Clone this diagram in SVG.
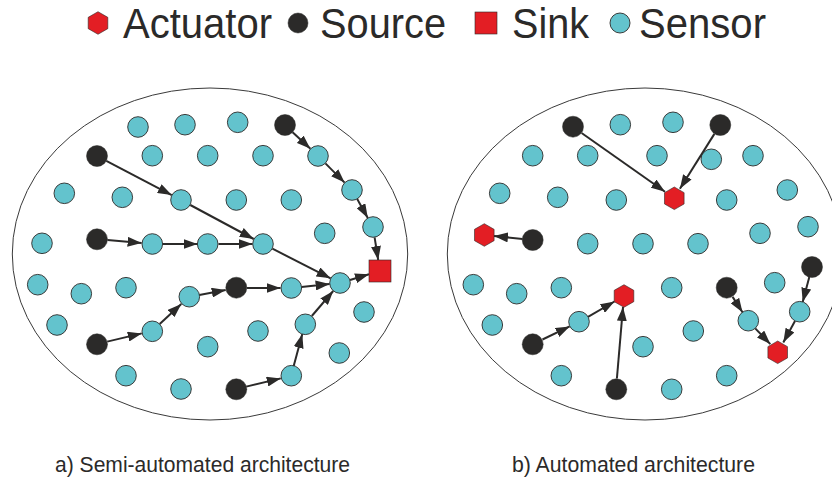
<svg xmlns="http://www.w3.org/2000/svg" xmlns:xlink="http://www.w3.org/1999/xlink" width="832" height="478" viewBox="0 0 832 478">
<style>
.bg{fill:#ffffff}
.field{fill:none;stroke:#3a3a3a;stroke-width:1}
.sensor{fill:#63c3cd;stroke:#2b2a29;stroke-width:0.9}
.source{fill:#2b2a29;stroke:#2b2a29;stroke-width:0.5}
.red{fill:#e31e24;stroke:#2b2a29;stroke-width:0.6}
.lbl{font-family:"Liberation Sans",Arial,sans-serif;fill:#2b2a29}
.leg{font-size:43px}
.cap{font-size:22px}
#links line{stroke:#2b2a29;stroke-width:2;marker-end:url(#ah)}
</style>
<defs>
<marker id="ah" markerUnits="userSpaceOnUse" markerWidth="14" markerHeight="10" refX="14" refY="5" orient="auto">
<path d="M0,0 L14,5 L0,10 z" fill="#2b2a29"/>
</marker>
<polygon id="hex" points="0,-11.3 9.8,-5.65 9.8,5.65 0,11.3 -9.8,5.65 -9.8,-5.65"/>
</defs>
<rect class="bg" x="0" y="0" width="832" height="478"/>

<g id="legend">
<use xlink:href="#hex" href="#hex" class="red" x="98" y="23"/>
<text class="lbl leg" x="123" y="37.5" textLength="149" lengthAdjust="spacingAndGlyphs">Actuator</text>
<circle class="source" cx="298" cy="23" r="10"/>
<text class="lbl leg" x="320" y="37.5" textLength="126" lengthAdjust="spacingAndGlyphs">Source</text>
<rect class="red" x="475" y="12" width="22" height="22"/>
<text class="lbl leg" x="512" y="37.5" textLength="77" lengthAdjust="spacingAndGlyphs">Sink</text>
<circle class="sensor" cx="620" cy="23" r="10"/>
<text class="lbl leg" x="639" y="37.5" textLength="127" lengthAdjust="spacingAndGlyphs">Sensor</text>
</g>

<g id="fieldA"><ellipse class="field" cx="210" cy="254" rx="197.7" ry="166"/></g>
<g id="fieldB"><ellipse class="field" cx="645" cy="254" rx="197.7" ry="166"/></g>

<g id="links">
<line x1="292.6" y1="132.2" x2="310.4" y2="148.8"/>
<line x1="325.4" y1="163.4" x2="344.6" y2="182.6"/>
<line x1="357.2" y1="199.1" x2="367.8" y2="217.9"/>
<line x1="374.6" y1="237.4" x2="378.2" y2="260"/>
<line x1="106.3" y1="160.9" x2="171.7" y2="195.1"/>
<line x1="190.3" y1="205" x2="253.7" y2="239"/>
<line x1="272.4" y1="248.7" x2="330.6" y2="278.3"/>
<line x1="107.5" y1="240" x2="141.6" y2="243.1"/>
<line x1="162.5" y1="244" x2="197.5" y2="244"/>
<line x1="218.5" y1="244" x2="252.5" y2="244"/>
<line x1="350" y1="280" x2="369" y2="274.3"/>
<line x1="246.8" y1="288" x2="280.5" y2="288"/>
<line x1="301.4" y1="286.9" x2="329.6" y2="284.1"/>
<line x1="199.3" y1="295" x2="225.7" y2="290"/>
<line x1="159.7" y1="324" x2="181.3" y2="304"/>
<line x1="107.2" y1="341.6" x2="141.8" y2="333.4"/>
<line x1="246.2" y1="386.6" x2="280.8" y2="378.4"/>
<line x1="293.7" y1="366" x2="302.3" y2="334.1"/>
<line x1="311.8" y1="316" x2="333.2" y2="291"/>

<line x1="581.6" y1="133" x2="665" y2="191.7"/>
<line x1="714.4" y1="133.9" x2="679.9" y2="188.7"/>
<line x1="522.6" y1="238.9" x2="494" y2="236"/>
<line x1="542.5" y1="339.5" x2="569.7" y2="326.4"/>
<line x1="588" y1="316.8" x2="614.5" y2="301.5"/>
<line x1="616.9" y1="378.5" x2="623" y2="307"/>
<line x1="732.6" y1="296.9" x2="742.5" y2="312.3"/>
<line x1="755.2" y1="328.4" x2="770.3" y2="344.1"/>
<line x1="809.3" y1="277.1" x2="802.7" y2="301.9"/>
<line x1="795" y1="321" x2="783.3" y2="342.4"/>
</g>

<g id="nodesA">
<circle class="sensor" cx="138" cy="127" r="10.3"/>
<circle class="sensor" cx="185" cy="124.7" r="10.3"/>
<circle class="sensor" cx="237.7" cy="122.3" r="10.3"/>
<circle class="source" cx="285" cy="125" r="10.5"/>
<circle class="source" cx="97" cy="156" r="10.5"/>
<circle class="sensor" cx="152.3" cy="155.7" r="10.3"/>
<circle class="sensor" cx="207.7" cy="155.7" r="10.3"/>
<circle class="sensor" cx="263" cy="155.7" r="10.3"/>
<circle class="sensor" cx="318" cy="156" r="10.3"/>
<circle class="sensor" cx="64.3" cy="193.3" r="10.3"/>
<circle class="sensor" cx="122.3" cy="197.3" r="10.3"/>
<circle class="sensor" cx="181" cy="200" r="10.3"/>
<circle class="sensor" cx="236.3" cy="200" r="10.3"/>
<circle class="sensor" cx="291.3" cy="200" r="10.3"/>
<circle class="sensor" cx="352" cy="190" r="10.3"/>
<circle class="sensor" cx="42" cy="243.3" r="10.3"/>
<circle class="source" cx="97" cy="239.3" r="10.5"/>
<circle class="sensor" cx="152.3" cy="244" r="10.3"/>
<circle class="sensor" cx="207.7" cy="244" r="10.3"/>
<circle class="sensor" cx="263" cy="244" r="10.3"/>
<circle class="sensor" cx="324.7" cy="233.3" r="10.3"/>
<circle class="sensor" cx="373" cy="227" r="10.3"/>
<rect class="red" x="369" y="260" width="22" height="22"/>
<circle class="sensor" cx="37.7" cy="284.7" r="10.3"/>
<circle class="sensor" cx="81.3" cy="293.7" r="10.3"/>
<circle class="sensor" cx="126" cy="287.7" r="10.3"/>
<circle class="sensor" cx="189.3" cy="296.7" r="10.3"/>
<circle class="source" cx="236.3" cy="287.7" r="10.5"/>
<circle class="sensor" cx="291.3" cy="288" r="10.3"/>
<circle class="sensor" cx="340" cy="283" r="10.3"/>
<circle class="sensor" cx="57" cy="325" r="10.3"/>
<circle class="sensor" cx="152.3" cy="331.3" r="10.3"/>
<circle class="source" cx="97" cy="344.3" r="10.5"/>
<circle class="sensor" cx="207.7" cy="346.7" r="10.3"/>
<circle class="sensor" cx="258" cy="331" r="10.3"/>
<circle class="sensor" cx="305.3" cy="324.3" r="10.3"/>
<circle class="sensor" cx="364" cy="312" r="10.3"/>
<circle class="sensor" cx="339.3" cy="353" r="10.3"/>
<circle class="sensor" cx="126" cy="375.7" r="10.3"/>
<circle class="sensor" cx="181" cy="389" r="10.3"/>
<circle class="source" cx="236.3" cy="389.3" r="10.5"/>
<circle class="sensor" cx="291.3" cy="375.7" r="10.3"/>
</g>

<g id="nodesB">
<circle class="source" cx="573" cy="126.7" r="10.5"/>
<circle class="sensor" cx="620.3" cy="124.7" r="10.3"/>
<circle class="sensor" cx="673" cy="122.3" r="10.3"/>
<circle class="source" cx="720.3" cy="125" r="10.5"/>
<circle class="sensor" cx="532.7" cy="155.7" r="10.3"/>
<circle class="sensor" cx="587.7" cy="155.7" r="10.3"/>
<circle class="sensor" cx="657" cy="155.7" r="10.3"/>
<circle class="sensor" cx="711.3" cy="159.3" r="10.3"/>
<circle class="sensor" cx="753" cy="155.7" r="10.3"/>
<circle class="sensor" cx="499.7" cy="193.3" r="10.3"/>
<circle class="sensor" cx="557.7" cy="197.3" r="10.3"/>
<circle class="sensor" cx="616.3" cy="200" r="10.3"/>
<use xlink:href="#hex" href="#hex" class="red" x="674.3" y="198.3"/>
<circle class="sensor" cx="726.7" cy="200" r="10.3"/>
<circle class="sensor" cx="787.3" cy="190" r="10.3"/>
<use xlink:href="#hex" href="#hex" class="red" x="484.3" y="235"/>
<circle class="source" cx="532.7" cy="240" r="10.5"/>
<circle class="sensor" cx="587.7" cy="243.7" r="10.3"/>
<circle class="sensor" cx="643" cy="243.7" r="10.3"/>
<circle class="sensor" cx="698" cy="243.7" r="10.3"/>
<circle class="sensor" cx="760" cy="233.3" r="10.3"/>
<circle class="sensor" cx="808" cy="226.7" r="10.3"/>
<circle class="source" cx="812" cy="267" r="10.5"/>
<circle class="sensor" cx="473.3" cy="284.7" r="10.3"/>
<circle class="sensor" cx="516.7" cy="293.7" r="10.3"/>
<circle class="sensor" cx="561.3" cy="287.7" r="10.3"/>
<use xlink:href="#hex" href="#hex" class="red" x="624" y="296"/>
<circle class="sensor" cx="671.7" cy="287.7" r="10.3"/>
<circle class="source" cx="726.7" cy="287.7" r="10.5"/>
<circle class="sensor" cx="774.7" cy="282.7" r="10.3"/>
<circle class="sensor" cx="492.3" cy="325" r="10.3"/>
<circle class="sensor" cx="579" cy="321.7" r="10.3"/>
<circle class="source" cx="532.7" cy="344.3" r="10.5"/>
<circle class="sensor" cx="643" cy="346.7" r="10.3"/>
<circle class="sensor" cx="693.3" cy="331" r="10.3"/>
<circle class="sensor" cx="748.3" cy="320.7" r="10.3"/>
<circle class="sensor" cx="799.7" cy="311.7" r="10.3"/>
<use xlink:href="#hex" href="#hex" class="red" x="777.7" y="352.3"/>
<circle class="sensor" cx="561.3" cy="375.7" r="10.3"/>
<circle class="source" cx="616.3" cy="389.3" r="10.5"/>
<circle class="sensor" cx="671.7" cy="389.3" r="10.3"/>
<circle class="sensor" cx="726.7" cy="375.7" r="10.3"/>
</g>

<g id="captions">
<text class="lbl cap" x="55" y="472" textLength="295" lengthAdjust="spacingAndGlyphs">a) Semi-automated architecture</text>
<text class="lbl cap" x="512" y="472" textLength="243" lengthAdjust="spacingAndGlyphs">b) Automated architecture</text>
</g>
</svg>
